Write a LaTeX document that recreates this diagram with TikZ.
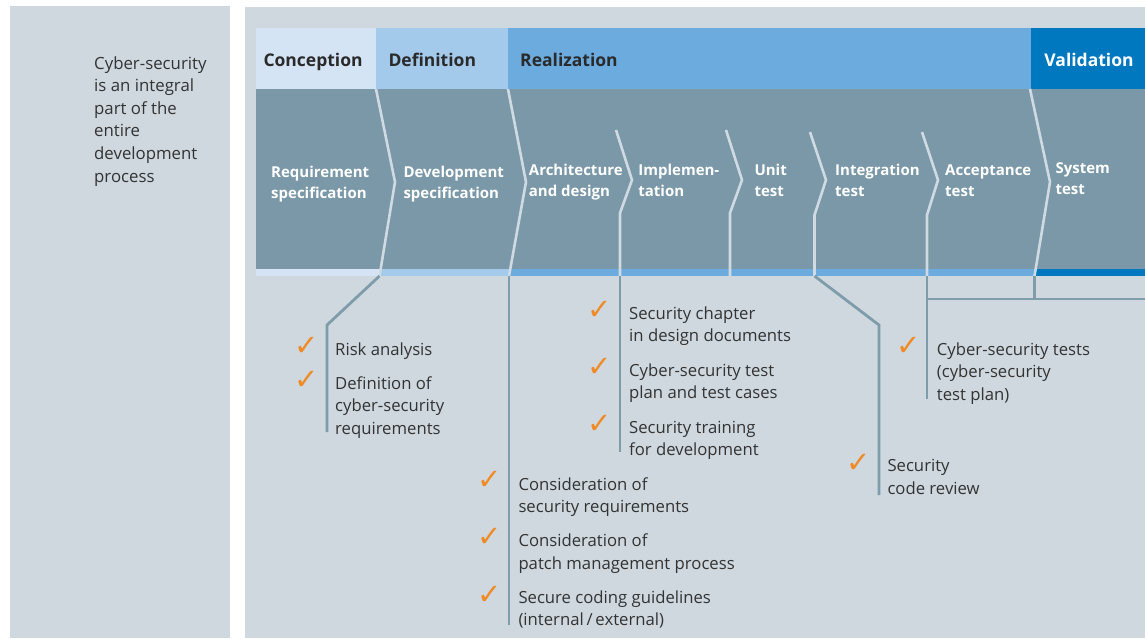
\documentclass[tikz,border=0pt]{standalone}
\usepackage{fontspec}
\setmainfont{Open Sans}
\newfontfamily\symf{DejaVu Sans}
\definecolor{panel}{HTML}{CFD8DF}
\definecolor{bodygray}{HTML}{7A98A7}
\definecolor{chev}{HTML}{D0DAE2}
\definecolor{conn}{HTML}{7F9CAB}
\definecolor{conc}{HTML}{D5E4F5}
\definecolor{defi}{HTML}{A3C9EB}
\definecolor{real}{HTML}{6BABDE}
\definecolor{vali}{HTML}{0078C0}
\definecolor{txt}{HTML}{333333}
\definecolor{hdtxt}{HTML}{2A2A2A}
\definecolor{tickor}{HTML}{F08A24}
\begin{document}
\begin{tikzpicture}[x=1pt,y=-1pt,
  phase/.style={anchor=base west,inner sep=0pt,text=hdtxt,font=\fontsize{17.5}{21}\selectfont\bfseries},
  stagelbl/.style={anchor=base west,inner sep=0pt,align=left,text=white,font=\fontsize{15}{21}\selectfont\bfseries},
  item/.style={anchor=base west,inner sep=0pt,align=left,text=txt,font=\fontsize{16.7}{22.5}\selectfont},
  tick/.style={inner sep=0pt,text=tickor,font=\symf\fontsize{29}{29}\selectfont},
  chevline/.style={draw=chev,line width=2.6pt,line join=miter},
  connline/.style={draw=conn,line width=2.8pt,line join=miter}]
\useasboundingbox (0,0) rectangle (1145,638);
\fill[white] (0,0) rectangle (1145,638);
% panels
\fill[panel] (10,6) rectangle (230,638);
\fill[panel] (245,7) rectangle (1145,638);
% header
\fill[conc] (256,28) rectangle (376,89);
\fill[defi] (376,28) rectangle (508,89);
\fill[real] (508,28) rectangle (1031,89);
\fill[vali] (1031,28) rectangle (1145,89);
% body
\fill[bodygray] (256,89) rectangle (1145,269);
% strip
\fill[conc] (256,269) rectangle (380,276);
\fill[defi] (380,269) rectangle (509,276);
\fill[real] (509,269) rectangle (1035,276);
\fill[vali] (1035,269) rectangle (1145,276);
% coordinates
\coordinate (c1a) at (376,89); \coordinate (c1b) at (395,182); \coordinate (c1c) at (379.5,276);
\coordinate (c2a) at (508,89); \coordinate (c2b) at (526,182); \coordinate (c2c) at (509,276);
\coordinate (c3a) at (616,130); \coordinate (c3b) at (632,180); \coordinate (c3c) at (620,213); \coordinate (c3d) at (620,276);
\coordinate (c4a) at (726,130); \coordinate (c4b) at (742,180); \coordinate (c4c) at (730,213); \coordinate (c4d) at (730,276);
\coordinate (c5a) at (810,132); \coordinate (c5b) at (826,180); \coordinate (c5c) at (814.5,215); \coordinate (c5d) at (814.5,276);
\coordinate (c6a) at (922,132); \coordinate (c6b) at (938,180); \coordinate (c6c) at (927,215); \coordinate (c6d) at (927,276);
\coordinate (c7a) at (1030,89); \coordinate (c7b) at (1050,182); \coordinate (c7c) at (1034.5,276);
% chevron lines
\draw[chevline] (c1a) -- (c1b) -- (c1c);
\draw[chevline] (c2a) -- (c2b) -- (c2c);
\draw[chevline] (c3a) -- (c3b) -- (c3c) -- (c3d);
\draw[chevline] (c4a) -- (c4b) -- (c4c) -- (c4d);
\draw[chevline] (c5a) -- (c5b) -- (c5c) -- (c5d);
\draw[chevline] (c6a) -- (c6b) -- (c6c) -- (c6d);
\draw[chevline] (c7a) -- (c7b) -- (c7c);
% connector lines
\coordinate (aK) at (327,325); \coordinate (aE) at (327,432);
\coordinate (bE) at (509,625);
\coordinate (cE) at (620,452);
\coordinate (dK) at (879,325); \coordinate (dE) at (879,495);
\coordinate (eJ) at (927,299); \coordinate (eE) at (927,399);
\coordinate (vJ) at (1034.5,299); \coordinate (rE) at (1145,299);
\draw[connline] (c1c) -- (aK) -- (aE);
\draw[connline] (c2c) -- (bE);
\draw[connline] (c3d) -- (cE);
\draw[connline] (c5d) -- (dK) -- (dE);
\draw[connline] (c6d) -- (eE);
\draw[connline] (eJ) -- (rE);
\draw[connline] (c7c) -- (vJ);
% left text (anchor = baseline of last line)
\node[item,font=\fontsize{16.8}{22.6}\selectfont] (intro) at (94,182) {Cyber-security\\is an integral\\part of the\\entire\\development\\process};
% header texts
\node[phase] (pconc) at (263.3,66) {Conception};
\node[phase] (pdef) at (388.3,66) {Definition};
\node[phase] (preal) at (520,66) {Realization};
\node[phase,text=white] (pval) at (1044.2,66) {Validation};
% stage labels
\node[stagelbl] (s1) at (271,198.3) {Requirement\\specification};
\node[stagelbl] (s2) at (403.3,198.3) {Development\\specification};
\node[stagelbl] (s3) at (528.7,196.7) {Architecture\\and design};
\node[stagelbl] (s4) at (638.2,196.7) {Implemen-\\tation};
\node[stagelbl] (s5) at (754.3,196.7) {Unit\\test};
\node[stagelbl] (s6) at (835,196.7) {Integration\\test};
\node[stagelbl] (s7) at (945,196.7) {Acceptance\\test};
\node[stagelbl] (s8) at (1055.3,194.3) {System\\test};
% group A
\node[tick] (tA1) at (307,346.7) {✓};
\node[item] (iA1) at (335,355) {Risk analysis};
\node[tick] (tA2) at (307,380) {✓};
\node[item] (iA2) at (335,434) {Definition of\\cyber-security\\requirements};
% group B
\node[tick] (tB1) at (489.7,480.8) {✓};
\node[item] (iB1) at (518.3,512.5) {Consideration of\\security requirements};
\node[tick] (tB2) at (489.7,537.7) {✓};
\node[item] (iB2) at (518.3,569.2) {Consideration of\\patch management process};
\node[tick] (tB3) at (489.7,595) {✓};
\node[item] (iB3) at (518.3,625.8) {Secure coding guidelines\\(internal\,/\,external)};
% group C
\node[tick] (tC1) at (600,310.5) {✓};
\node[item] (iC1) at (629,341.8) {Security chapter\\in design documents};
\node[tick] (tC2) at (600,367.5) {✓};
\node[item] (iC2) at (629,398.5) {Cyber-security test\\plan and test cases};
\node[tick] (tC3) at (600,424) {✓};
\node[item] (iC3) at (629,455.8) {Security training\\for development};
% group D
\node[tick] (tD1) at (858.7,463.5) {✓};
\node[item] (iD1) at (887.3,494) {Security\\code review};
% group E
\node[tick] (tE1) at (908.7,346.5) {✓};
\node[item] (iE1) at (936.7,400) {Cyber-security tests\\(cyber-security\\test plan)};
\end{tikzpicture}
\end{document}
